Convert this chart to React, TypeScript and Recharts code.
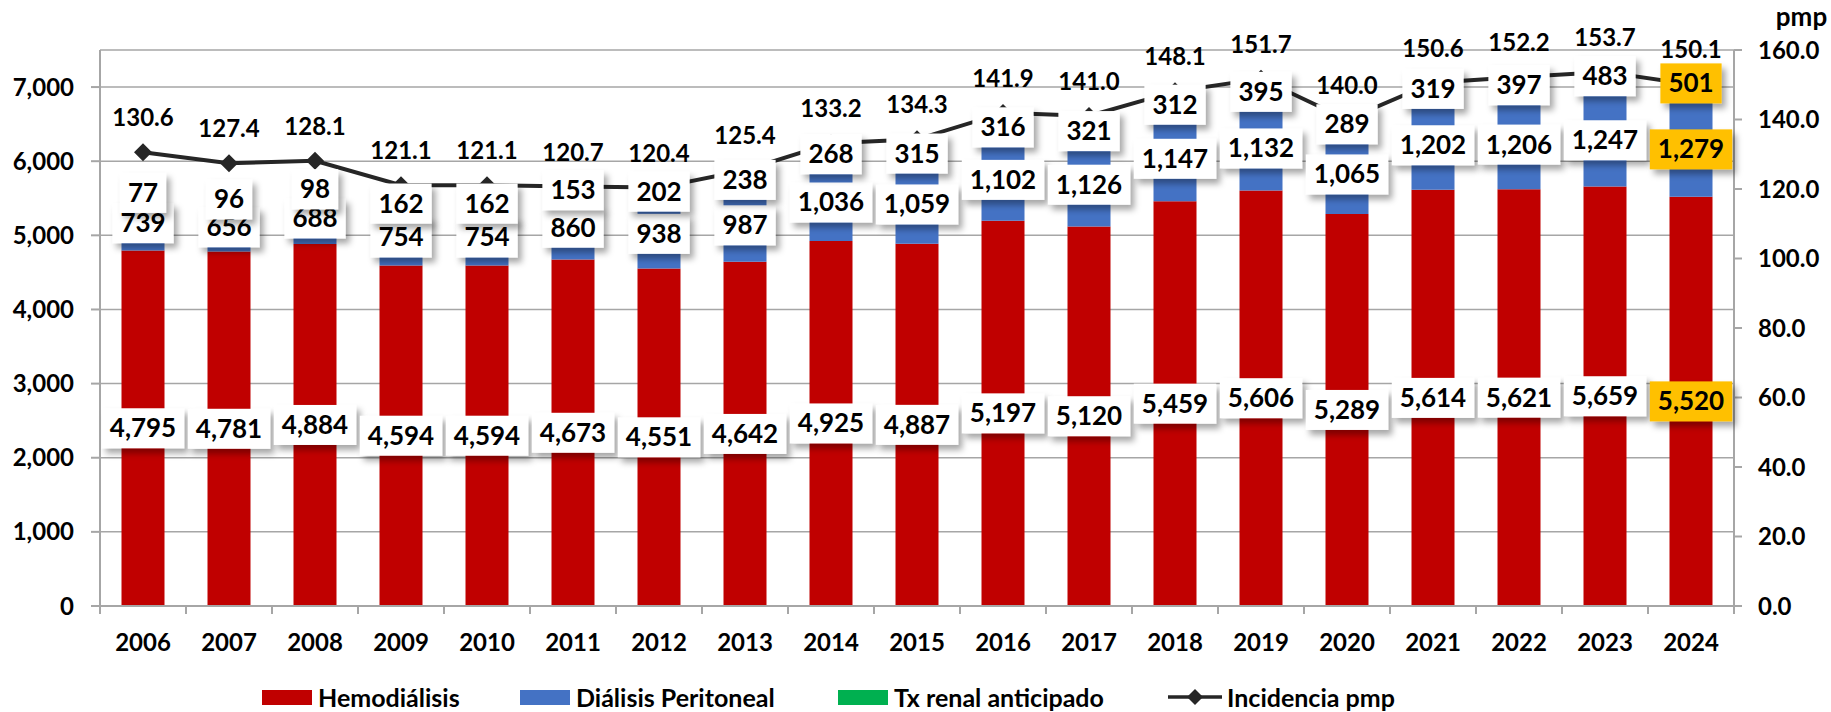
import {
  Bar,
  CartesianGrid,
  ComposedChart,
  LabelList,
  Legend,
  Line,
  XAxis,
  YAxis,
} from "recharts";

const years = [
  "2006", "2007", "2008", "2009", "2010", "2011", "2012", "2013", "2014", "2015",
  "2016", "2017", "2018", "2019", "2020", "2021", "2022", "2023", "2024",
];
const hemodialisis = [
  4795, 4781, 4884, 4594, 4594, 4673, 4551, 4642, 4925, 4887,
  5197, 5120, 5459, 5606, 5289, 5614, 5621, 5659, 5520,
];
const dialisisPeritoneal = [
  739, 656, 688, 754, 754, 860, 938, 987, 1036, 1059,
  1102, 1126, 1147, 1132, 1065, 1202, 1206, 1247, 1279,
];
const txRenal = [
  77, 96, 98, 162, 162, 153, 202, 238, 268, 315,
  316, 321, 312, 395, 289, 319, 397, 483, 501,
];
const incidencia = [
  130.6, 127.4, 128.1, 121.1, 121.1, 120.7, 120.4, 125.4, 133.2, 134.3,
  141.9, 141.0, 148.1, 151.7, 140.0, 150.6, 152.2, 153.7, 150.1,
];
const leftTicks = [0, 1000, 2000, 3000, 4000, 5000, 6000, 7000];
const rightTicks = [0, 20, 40, 60, 80, 100, 120, 140, 160];

const data = years.map((year, i) => ({
  year,
  hd: hemodialisis[i],
  dp: dialisisPeritoneal[i],
  tx: txRenal[i],
  inc: incidencia[i],
}));

const FONT = "Lato, 'Open Sans', sans-serif";
const GRID = "#A6A6A6";
const RED = "#C00000";
const BLUE = "#4472C4";
const GREEN = "#00B050";
const LINE = "#262626";
const LAST = years.length - 1;
const BAND = (1734 - 100) / years.length;

let ctx: CanvasRenderingContext2D | null = null;
function textWidth(s: string, font: string) {
  if (!ctx) ctx = document.createElement("canvas").getContext("2d");
  if (!ctx) return s.length * 14;
  ctx.font = font;
  return ctx.measureText(s).width;
}

function BoxLabel(props: any) {
  const vb = props.viewBox ?? props;
  const { x, y, width, height } = vb;
  if (x == null || props.value == null) return null;
  const cx = x + width / 2;
  const cy = y + height / 2;
  const txt = Number(props.value).toLocaleString("en-US");
  const w = textWidth(txt, `700 26px ${FONT}`) + 16;
  const h = 40;
  const fill = props.index === LAST ? "#FFC000" : "#FFFFFF";
  return (
    <g>
      <rect x={cx - w / 2} y={cy - h / 2} width={w} height={h} fill={fill} filter="url(#boxShadow)" />
      <text x={cx} y={cy + 9} textAnchor="middle" fontSize={26} fontWeight={700} fill="#000" fontFamily={FONT}>
        {txt}
      </text>
    </g>
  );
}

function LineLabel(props: any) {
  const vb = props.viewBox ?? props;
  const x = props.x ?? vb.x;
  const y = props.y ?? vb.y;
  if (x == null || props.value == null) return null;
  return (
    <text x={x} y={y - 26} textAnchor="middle" fontSize={24} fontWeight={700} fill="#000" fontFamily={FONT}>
      {Number(props.value).toFixed(1)}
    </text>
  );
}

function Diamond(props: any) {
  const { cx, cy } = props;
  if (cx == null || cy == null) return null;
  const r = 9;
  return (
    <path d={`M${cx},${cy - r}L${cx + r},${cy}L${cx},${cy + r}L${cx - r},${cy}Z`} fill={LINE} stroke="none" />
  );
}

function YearTick(props: any) {
  const { x, y, payload, index } = props;
  return (
    <g>
      <line x1={x - BAND / 2} x2={x - BAND / 2} y1={y} y2={y + 8} stroke={GRID} strokeWidth={2} />
      {index === LAST && (
        <line x1={x + BAND / 2} x2={x + BAND / 2} y1={y} y2={y + 8} stroke={GRID} strokeWidth={2} />
      )}
      <text x={x} y={y + 45} textAnchor="middle" fontSize={24} fontWeight={700} fill="#000" fontFamily={FONT}>
        {payload.value}
      </text>
    </g>
  );
}

const legendItems = [
  { label: "Hemodiálisis", color: RED, left: 262 },
  { label: "Diálisis Peritoneal", color: BLUE, left: 520 },
  { label: "Tx renal anticipado", color: GREEN, left: 838 },
];

function LegendContent() {
  const text = { fontFamily: FONT, fontWeight: 700, fontSize: 25, color: "#000", whiteSpace: "nowrap" as const };
  return (
    <div style={{ position: "relative", height: 30, width: 1831 }}>
      {legendItems.map((it) => (
        <div
          key={it.label}
          style={{ position: "absolute", left: it.left, top: 0, height: 30, display: "flex", alignItems: "center", ...text }}
        >
          <span style={{ display: "inline-block", width: 50, height: 15, background: it.color, marginRight: 6 }} />
          <span>{it.label}</span>
        </div>
      ))}
      <div style={{ position: "absolute", left: 1168, top: 0, height: 30, display: "flex", alignItems: "center", ...text }}>
        <svg width={54} height={20} style={{ marginRight: 5 }}>
          <line x1={0} x2={54} y1={10} y2={10} stroke={LINE} strokeWidth={3.5} />
          <path d="M27,2L35,10L27,18L19,10Z" fill={LINE} />
        </svg>
        <span>Incidencia pmp</span>
      </div>
    </div>
  );
}

const tickStyle = { fill: "#000", fontSize: 24, fontWeight: 700, fontFamily: FONT };

export default function App() {
  return (
    <div style={{ width: 1831, height: 712, fontFamily: FONT }}>
      <style>{"body{margin:0}"}</style>
      <ComposedChart
        width={1831}
        height={712}
        data={data}
        margin={{ top: 50, right: 0, bottom: 0, left: 0 }}
        barCategoryGap="25%"
      >
        <defs>
          <filter id="boxShadow" x="-30%" y="-30%" width="160%" height="170%">
            <feDropShadow dx={4} dy={5} stdDeviation={3} floodColor="#000" floodOpacity={0.35} />
          </filter>
        </defs>
        <CartesianGrid vertical={false} stroke={GRID} strokeWidth={1.5} yAxisId="l" />
        <XAxis
          dataKey="year"
          height={76}
          interval={0}
          tickLine={false}
          tickSize={0}
          tickMargin={0}
          axisLine={{ stroke: GRID, strokeWidth: 2 }}
          tick={<YearTick />}
        />
        <XAxis dataKey="year" xAxisId="lbl" hide />
        <YAxis
          yAxisId="l"
          width={100}
          domain={[0, 7500]}
          ticks={leftTicks}
          interval={0}
          tickSize={9}
          tickMargin={17}
          axisLine={{ stroke: GRID, strokeWidth: 2 }}
          tickLine={{ stroke: GRID, strokeWidth: 2 }}
          tick={tickStyle}
          tickFormatter={(v) => Number(v).toLocaleString("en-US")}
        />
        <YAxis
          yAxisId="r"
          orientation="right"
          width={97}
          domain={[0, 160]}
          ticks={rightTicks}
          interval={0}
          tickSize={8}
          tickMargin={16}
          axisLine={{ stroke: GRID, strokeWidth: 2 }}
          tickLine={{ stroke: GRID, strokeWidth: 2 }}
          tick={tickStyle}
          tickFormatter={(v) => Number(v).toFixed(1)}
          label={{
            value: "pmp",
            position: "top",
            offset: 24,
            dx: 19,
            style: { fill: "#000", fontSize: 26, fontWeight: 700, fontFamily: FONT },
          }}
        />
        <Legend verticalAlign="bottom" height={30} content={<LegendContent />} />
        <Bar dataKey="hd" name="Hemodiálisis" stackId="s" yAxisId="l" fill={RED} isAnimationActive={false} />
        <Bar dataKey="dp" name="Diálisis Peritoneal" stackId="s" yAxisId="l" fill={BLUE} isAnimationActive={false} />
        <Bar dataKey="tx" name="Tx renal anticipado" stackId="s" yAxisId="l" fill={GREEN} isAnimationActive={false} />
        <Line
          dataKey="inc"
          name="Incidencia pmp"
          yAxisId="r"
          stroke={LINE}
          strokeWidth={4}
          dot={<Diamond />}
          activeDot={false}
          isAnimationActive={false}
        >
          <LabelList dataKey="inc" content={<LineLabel />} />
        </Line>
        <Bar dataKey="hd" stackId="lbl" xAxisId="lbl" yAxisId="l" fill="transparent" legendType="none" isAnimationActive={false}>
          <LabelList dataKey="hd" content={<BoxLabel />} />
        </Bar>
        <Bar dataKey="dp" stackId="lbl" xAxisId="lbl" yAxisId="l" fill="transparent" legendType="none" isAnimationActive={false}>
          <LabelList dataKey="dp" content={<BoxLabel />} />
        </Bar>
        <Bar dataKey="tx" stackId="lbl" xAxisId="lbl" yAxisId="l" fill="transparent" legendType="none" isAnimationActive={false}>
          <LabelList dataKey="tx" content={<BoxLabel />} />
        </Bar>
      </ComposedChart>
    </div>
  );
}
